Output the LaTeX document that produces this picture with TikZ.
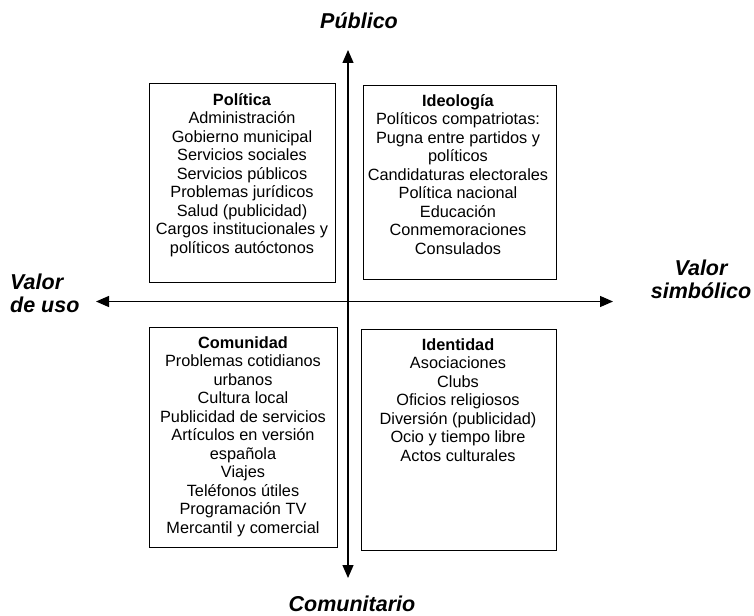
\documentclass[tikz,border=0pt]{standalone}
\usepackage{fontspec}
\setmainfont{Liberation Sans}
\usetikzlibrary{arrows.meta}
\begin{document}
\begin{tikzpicture}[x=1pt,y=-1pt,
  box/.style={draw, line width=1pt, inner sep=0pt, anchor=north west},
  txt/.style={align=center, inner sep=0pt, anchor=north, font=\fontsize{16.3}{18.5}\selectfont},
  axis/.style={line width=1.3pt, {Triangle[length=13pt,width=11pt]}-{Triangle[length=13pt,width=11pt]}},
  lbl/.style={font=\fontsize{21.5}{23.5}\selectfont\bfseries\itshape, inner sep=0pt}]
\useasboundingbox (0,0) rectangle (754,615);
% boxes
\node[box, minimum width=186pt, minimum height=199pt] (pol) at (149,83) {};
\node[box, minimum width=193pt, minimum height=194pt] (ideo) at (363,85) {};
\node[box, minimum width=188pt, minimum height=220pt] (com) at (149,327) {};
\node[box, minimum width=195pt, minimum height=221pt] (iden) at (361,329) {};
% box texts
\node[txt] (polt) at (242,92) {\strut\textbf{Política}\\Administración\\Gobierno municipal\\Servicios sociales\\Servicios públicos\\Problemas jurídicos\\Salud (publicidad)\\Cargos institucionales y\\políticos autóctonos};
\node[txt] (ideot) at (458,93) {\strut\textbf{Ideología}\\Políticos compatriotas:\\Pugna entre partidos y\\políticos\\Candidaturas electorales\\Política nacional\\Educación\\Conmemoraciones\\Consulados};
\node[txt] (comt) at (243,335) {\strut\textbf{Comunidad}\\Problemas cotidianos\\urbanos\\Cultura local\\Publicidad de servicios\\Artículos en versión\\española\\Viajes\\Teléfonos útiles\\Programación TV\\Mercantil y comercial};
\node[txt] (ident) at (458,337) {\strut\textbf{Identidad}\\Asociaciones\\Clubs\\Oficios religiosos\\Diversión (publicidad)\\Ocio y tiempo libre\\Actos culturales};
% axes
\coordinate (ytop) at (348,50);
\coordinate (ybot) at (348,578);
\coordinate (xleft) at (96,301.5);
\coordinate (xright) at (613,301.5);
\draw[axis] (ybot) -- (ytop);
\draw[axis] (xleft) -- (xright);
% axis labels
\node[lbl, anchor=base] (pub) at (359,29) {Público};
\node[lbl, anchor=base] (comu) at (352,611) {Comunitario};
\node[lbl, anchor=north west, align=left] (uso) at (10,272.5) {\strut Valor\\de uso};
\node[lbl, anchor=north, align=center] (simb) at (701,258.5) {\strut Valor\\simbólico};
\end{tikzpicture}
\end{document}
